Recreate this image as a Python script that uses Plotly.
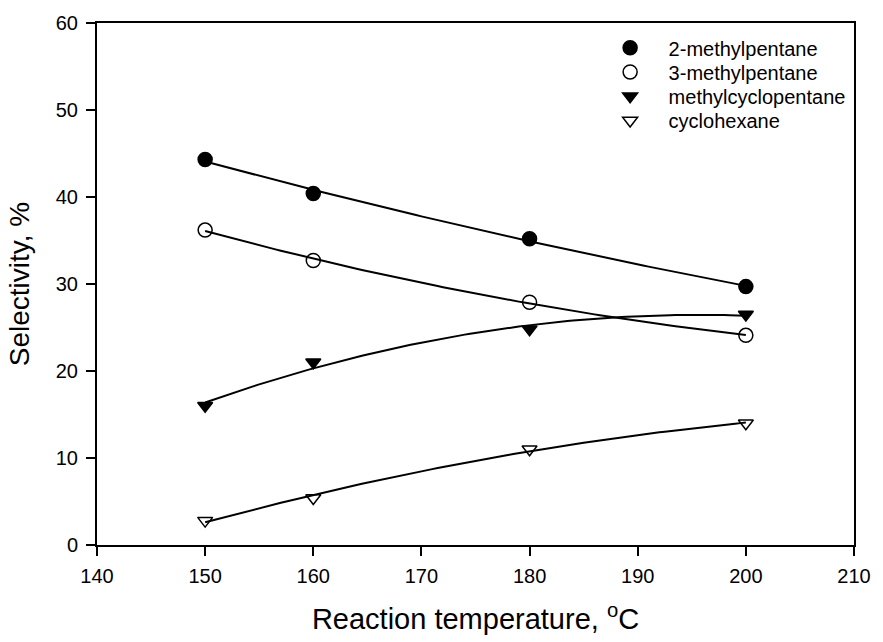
import numpy as np
import plotly.graph_objects as go

temperature = [150, 160, 180, 200]
methylpentane_2 = [44.3, 40.4, 35.2, 29.7]
methylpentane_3 = [36.2, 32.7, 27.9, 24.1]
methylcyclopentane = [16.0, 21.0, 24.8, 26.5]
cyclohexane = [2.8, 5.4, 11.0, 14.0]

series = [
    ("2-methylpentane", methylpentane_2, "circle"),
    ("3-methylpentane", methylpentane_3, "circle-open"),
    ("methylcyclopentane", methylcyclopentane, "triangle-down"),
    ("cyclohexane", cyclohexane, "triangle-down-open"),
]

FONT = "Liberation Sans, Arial, sans-serif"
fig = go.Figure()

xs = np.linspace(min(temperature), max(temperature), 101)
for name, vals, sym in series:
    coef = np.polyfit(temperature, vals, 2)
    fig.add_trace(go.Scatter(x=xs, y=np.polyval(coef, xs), mode="lines",
                             line=dict(color="black", width=2),
                             showlegend=False, hoverinfo="skip"))

legend_ids = ["legend", "legend2", "legend3", "legend4"]
for (name, vals, sym), lg in zip(series, legend_ids):
    size = 14 if "circle" in sym else 13
    fig.add_trace(go.Scatter(x=temperature, y=vals, mode="markers", name=name,
                             legend=lg,
                             marker=dict(symbol=sym, size=size, color="black",
                                         line=dict(color="black", width=1.5))))

# plot area: 97..863 px horizontally, 20..547 px vertically
row_centers_px = [45, 69.5, 94, 118.5]
legend_layout = {}
for lg, yc in zip(legend_ids, row_centers_px):
    legend_layout[lg] = dict(x=0.6534, y=(547 - yc) / 527, xanchor="left",
                             yanchor="middle", bgcolor="rgba(0,0,0,0)",
                             font=dict(size=20, family=FONT, color="black"),
                             itemwidth=67)

fig.update_layout(
    width=883, height=642,
    margin=dict(l=97, r=20, t=20, b=95),
    paper_bgcolor="white", plot_bgcolor="white",
    font=dict(family=FONT, color="black", size=20),
    xaxis=dict(range=[140, 210], tickvals=[140, 150, 160, 170, 180, 190, 200, 210],
               showline=True, linecolor="black", linewidth=2, mirror=True,
               ticks="outside", ticklen=9, tickwidth=1.5, tickcolor="black",
               ticklabelstandoff=3,
               showgrid=False, zeroline=False,
               title=dict(text="Reaction temperature, <sup>o</sup>C",
                          font=dict(size=29), standoff=23)),
    yaxis=dict(range=[0, 60], tickvals=[0, 10, 20, 30, 40, 50, 60],
               showline=True, linecolor="black", linewidth=2, mirror=True,
               ticks="outside", ticklen=9, tickwidth=1.5, tickcolor="black",
               ticklabelstandoff=4,
               showgrid=False, zeroline=False,
               title=dict(text="Selectivity, %", font=dict(size=28), standoff=18)),
    **legend_layout,
)

fig.write_html("out.html")
